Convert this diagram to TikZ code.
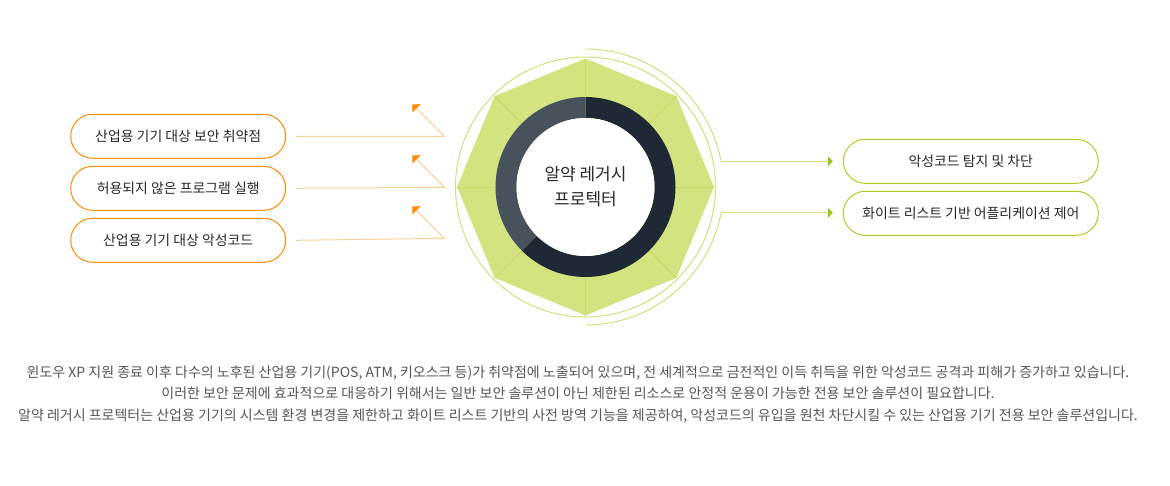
\documentclass[tikz,border=0pt]{standalone}
\usepackage{fontspec}
\setmainfont{Noto Sans CJK KR}
\usepackage{xcolor}
\usetikzlibrary{arrows.meta, positioning}

\definecolor{leafgreen}{RGB}{211,227,128}
\definecolor{spokegreen}{RGB}{198,218,102}
\definecolor{ringline}{RGB}{205,225,125}
\definecolor{olive}{RGB}{155,195,15}
\definecolor{boxolive}{RGB}{175,205,40}
\definecolor{tangerine}{RGB}{255,140,0}
\definecolor{peach}{RGB}{255,208,155}
\definecolor{navy}{RGB}{30,41,53}
\definecolor{slate}{RGB}{72,82,92}
\definecolor{inktext}{RGB}{40,40,40}
\definecolor{bodytext}{RGB}{85,85,85}

\begin{document}
\begin{tikzpicture}[
    x=1pt, y=-1pt,
    node distance=7pt,
    threat/.style={rectangle, draw=tangerine, fill=white, rounded corners=22pt, line width=1pt, minimum height=44pt, minimum width=215pt, align=center, text=inktext, font=\fontsize{13.9}{16}\selectfont},
    guard/.style={threat, draw=boxolive, minimum width=255pt},
    core/.style={circle, fill=white, minimum size=138pt, inner sep=0pt, align=center, text=inktext, font=\fontsize{17}{25}\selectfont},
    inarrow/.style={-{Triangle[length=5.7pt, width=11.4pt, color=tangerine]}, draw=peach, line width=1pt},
    outarrow/.style={-{Triangle[length=5pt, width=10pt, color=olive]}, draw=ringline, line width=1pt}
]
\fill[white] (0,0) rectangle (1170,485);
\useasboundingbox (0,0) rectangle (1170,485);

% octagon and rings
\begin{scope}[shift={(585.5,187)}]
\fill[leafgreen] (0:128.5) -- (45:128.5) -- (90:128.5) -- (135:128.5) -- (180:128.5) -- (225:128.5) -- (270:128.5) -- (315:128.5) -- cycle;
\foreach \a in {0,45,...,315}
    \draw[spokegreen, line width=1pt] (0,0) -- (\a:128.5);
\draw[ringline, line width=1pt] (0,0) circle[radius=130];
\draw[ringline, line width=1pt] (270:138) arc[start angle=270, end angle=349.27, radius=138] coordinate (tapA);
\draw[ringline, line width=1pt] (10.73:138) coordinate (tapB) arc[start angle=10.73, end angle=90, radius=138];
\fill[navy] (270:90) arc[start angle=270, end angle=495, radius=90] -- (135:69) arc[start angle=135, end angle=-90, radius=69] -- cycle;
\fill[slate] (135:90) arc[start angle=135, end angle=270, radius=90] -- (270:69) arc[start angle=270, end angle=135, radius=69] -- cycle;
\end{scope}
\node[core] (core) at (585.5,187) {알약 레거시\\프로텍터};

% left: threats
\node[threat] (vuln) at (178.2,136.3) {산업용 기기 대상 보안 취약점};
\node[threat, below=of vuln] (unauth) {허용되지 않은 프로그램 실행};
\node[threat, below=of unauth] (malware) {산업용 기기 대상 악성코드};

\coordinate (bendA) at (444.5,136.3);
\coordinate (bendB) at (444.5,187.3);
\coordinate (bendC) at (444.5,238.3);
\coordinate (tipA) at (412.5,104.3);
\coordinate (tipB) at (412.5,155.3);
\coordinate (tipC) at (412.5,206.3);

\draw[inarrow] ([xshift=10pt]vuln.east) -- (bendA) -- (tipA);
\draw[inarrow] ([xshift=10pt]unauth.east) -- (bendB) -- (tipB);
\draw[inarrow] ([xshift=10pt]malware.east) -- (bendC) -- (tipC);

% right: functions
\node[guard] (detect) at (970.8,161.3) {악성코드 탐지 및 차단};
\node[guard, below=of detect] (whitelist) {화이트 리스트 기반 어플리케이션 제어};

\draw[outarrow, shorten >=10pt] (tapA) -- (tapA -| detect.west);
\draw[outarrow, shorten >=10pt] (tapB) -- (tapB -| whitelist.west);

% description
\node[align=center, text=bodytext, font=\fontsize{14}{21.5}\selectfont] (about) at (578,394) {윈도우 XP 지원 종료 이후 다수의 노후된 산업용 기기(POS, ATM, 키오스크 등)가 취약점에 노출되어 있으며, 전 세계적으로 금전적인 이득 취득을 위한 악성코드 공격과 피해가 증가하고 있습니다.\\이러한 보안 문제에 효과적으로 대응하기 위해서는 일반 보안 솔루션이 아닌 제한된 리소스로 안정적 운용이 가능한 전용 보안 솔루션이 필요합니다.\\알약 레거시 프로텍터는 산업용 기기의 시스템 환경 변경을 제한하고 화이트 리스트 기반의 사전 방역 기능을 제공하여, 악성코드의 유입을 원천 차단시킬 수 있는 산업용 기기 전용 보안 솔루션입니다.};
\end{tikzpicture}
\end{document}
